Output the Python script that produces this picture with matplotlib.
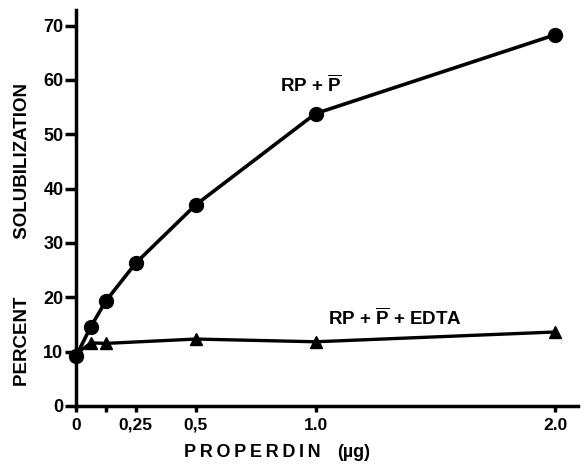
import matplotlib
matplotlib.use("Agg")
import matplotlib.pyplot as plt

plt.rcParams['font.family'] = ['Liberation Sans', 'DejaVu Sans']
plt.rcParams['font.weight'] = 'bold'
plt.rcParams['mathtext.fontset'] = 'custom'
plt.rcParams['mathtext.rm'] = 'Liberation Sans:bold'
plt.rcParams['mathtext.bf'] = 'Liberation Sans:bold'

# properdin dose (ug) and percent solubilization
dose_rp = [0, 0.0625, 0.125, 0.25, 0.5, 1.0, 2.0]
sol_rp = [9.1, 14.6, 19.3, 26.3, 37.0, 53.8, 68.3]

dose_edta = [0, 0.0625, 0.125, 0.5, 1.0, 2.0]
sol_edta = [9.5, 11.6, 11.5, 12.3, 11.8, 13.6]

x_ticks = [0, 0.125, 0.25, 0.5, 1.0, 2.0]
x_tick_labels = ['0', '', '0,25', '0,5', '1.0', '2.0']
y_ticks = [0, 10, 20, 30, 40, 50, 60, 70]

fig = plt.figure(figsize=(5.84, 4.66), dpi=100)
ax = fig.add_axes([0.130, 0.129, 0.860, 0.850])

ax.plot(dose_rp, sol_rp, color='black', lw=2.6, marker='o', ms=10,
	clip_on=False, zorder=3)
ax.plot(dose_edta, sol_edta, color='black', lw=2.4, marker='^', ms=9,
	clip_on=False, zorder=3)

ax.text(0.85, 57.8, r'RP + $\overline{\mathrm{P}}$', fontsize=13.5, fontweight='bold')
ax.text(1.05, 14.9, r'RP + $\overline{\mathrm{P}}$ + EDTA', fontsize=13.5, fontweight='bold')

ax.set_xlim(0, 2.096)
ax.set_ylim(0, 72.9)
ax.set_xticks(x_ticks)
ax.set_xticklabels(x_tick_labels)
ax.set_yticks(y_ticks)

for side in ['top', 'right']:
	ax.spines[side].set_visible(False)
for side in ['left', 'bottom']:
	ax.spines[side].set_linewidth(2.5)

ax.tick_params(axis='y', width=2.5, length=8, labelsize=13, pad=1)
ax.tick_params(axis='x', width=2.5, length=4.5, labelsize=12.5, pad=4)
for lbl in ax.get_xticklabels() + ax.get_yticklabels():
	lbl.set_fontweight('bold')

fig.text(0.038, 0.496, 'PERCENT           SOLUBILIZATION',
	rotation=90, ha='center', va='center', fontsize=13.5, fontweight='bold')
fig.text(0.432, 0.028, '\u2009'.join('PROPERDIN'),
	ha='center', va='center', fontsize=13, fontweight='bold')
fig.text(0.605, 0.028, '(µg)',
	ha='center', va='center', fontsize=13, fontweight='bold')

fig.savefig('out.png', dpi=100)
